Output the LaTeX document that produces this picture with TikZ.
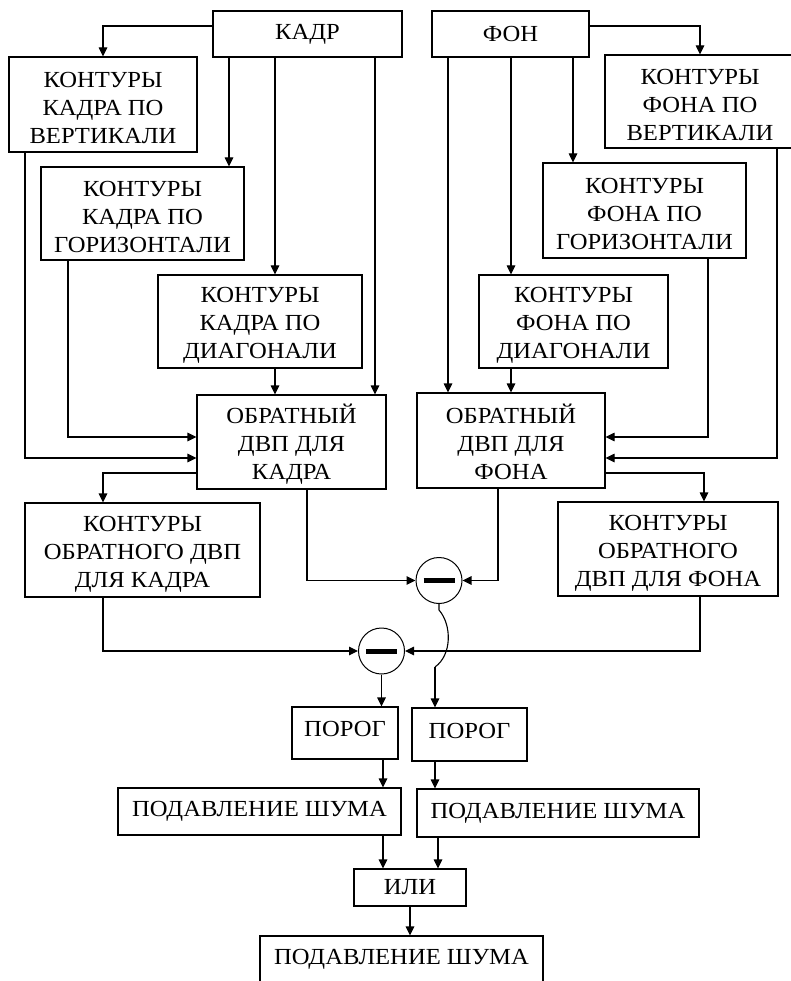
\documentclass[tikz,border=0pt]{standalone}
\usepackage{fontspec}
\setmainfont{Liberation Serif}[FakeStretch=1.07]
\usetikzlibrary{arrows.meta}

\newcommand\topgap{\rule{0pt}{23pt}}

\tikzset{
  block/.style={draw, line width=1.1pt, align=center, inner sep=0pt,
    font=\fontsize{23}{28}\selectfont},
  porogbox/.style={block, text depth=8pt},
  minus node/.style={circle, draw, line width=1pt, minimum size=46pt, inner sep=0pt},
  arr/.style={line width=1.1pt, -{Triangle[length=9pt,width=8.5pt]}},
  wire/.style={line width=1.1pt},
}

\begin{document}
\begin{tikzpicture}[x=1pt, y=-1pt]
\clip (0,0) rectangle (791,981);
\fill[white] (0,0) rectangle (791,981);

% columns and rows of the wires
\coordinate (c25) at (25,0);   \coordinate (c68) at (68,0);
\coordinate (c103) at (103,0); \coordinate (c229) at (229,0);
\coordinate (c275) at (275,0); \coordinate (c307) at (307,0);
\coordinate (c375) at (375,0); \coordinate (c383) at (383,0);
\coordinate (c435) at (435,0); \coordinate (c438) at (438,0);
\coordinate (c448) at (448,0); \coordinate (c498) at (498,0);
\coordinate (c511) at (511,0); \coordinate (c573) at (573,0);
\coordinate (c700) at (700,0); \coordinate (c704) at (704,0);
\coordinate (c708) at (708,0); \coordinate (c777) at (777,0);
\coordinate (r26) at (0,26);   \coordinate (r437) at (0,437);
\coordinate (r458) at (0,458); \coordinate (r473) at (0,473);
\coordinate (hop) at (435,667);

% frame side
\node[block, minimum width=189pt, minimum height=46pt] (kadr) at (307.5,34) {КАДР};
\node[block, minimum width=188pt, minimum height=95pt] (kvert) at (103,104.5) {\topgap КОНТУРЫ\\КАДРА ПО\\ВЕРТИКАЛИ};
\node[block, minimum width=203pt, minimum height=93pt] (khor) at (142.5,213.5) {\topgap КОНТУРЫ\\КАДРА ПО\\ГОРИЗОНТАЛИ};
\node[block, minimum width=204pt, minimum height=93pt] (kdiag) at (260,321.5) {\topgap КОНТУРЫ\\КАДРА ПО\\ДИАГОНАЛИ};
\node[block, minimum width=189pt, minimum height=94pt] (kdwt) at (291.5,442) {\topgap ОБРАТНЫЙ\\ДВП ДЛЯ\\КАДРА};
\node[block, minimum width=235pt, minimum height=94pt] (kobr) at (142.5,550) {\topgap КОНТУРЫ\\ОБРАТНОГО ДВП\\ДЛЯ КАДРА};

% background side
\node[block, minimum width=157pt, minimum height=46pt] (fon) at (510.5,34) {ФОН};
\node[block, minimum width=190pt, minimum height=93pt] (fvert) at (700,101.5) {\topgap КОНТУРЫ\\ФОНА ПО\\ВЕРТИКАЛИ};
\node[block, minimum width=203pt, minimum height=95pt] (fhor) at (644.5,210.5) {\topgap КОНТУРЫ\\ФОНА ПО\\ГОРИЗОНТАЛИ};
\node[block, minimum width=189pt, minimum height=93pt] (fdiag) at (573.5,321.5) {\topgap КОНТУРЫ\\ФОНА ПО\\ДИАГОНАЛИ};
\node[block, minimum width=188pt, minimum height=95pt] (fdwt) at (511,440.5) {\topgap ОБРАТНЫЙ\\ДВП ДЛЯ\\ФОНА};
\node[block, minimum width=220pt, minimum height=94pt] (fobr) at (668,549) {\topgap КОНТУРЫ\\ОБРАТНОГО\\ДВП ДЛЯ ФОНА};

% subtraction and output chain
\node[minus node] (m1) at (439,580.5) {\rule[-2.25pt]{31pt}{4.5pt}};
\node[minus node] (m2) at (381.5,651) {\rule[-2.5pt]{31pt}{5pt}};
\node[porogbox, minimum width=106pt, minimum height=52pt] (porog1) at (345,733) {ПОРОГ};
\node[porogbox, minimum width=115pt, minimum height=53pt] (porog2) at (469.5,734.5) {ПОРОГ};
\node[block, minimum width=283pt, minimum height=47pt] (shum1) at (259.5,811.5) {ПОДАВЛЕНИЕ ШУМА};
\node[block, minimum width=282pt, minimum height=48pt] (shum2) at (558,813) {ПОДАВЛЕНИЕ ШУМА};
\node[block, minimum width=112pt, minimum height=37pt] (ili) at (410,887.5) {ИЛИ};
\node[block, minimum width=283pt, minimum height=47pt] (shum3) at (401.5,959.5) {ПОДАВЛЕНИЕ ШУМА};

% wires of the frame side
\draw[arr] (kadr.west |- r26) -| (kvert.north);
\draw[arr] (kadr.south -| c229) -- (khor.north -| c229);
\draw[arr] (kadr.south -| c275) -- (kdiag.north -| c275);
\draw[arr] (kadr.south -| c375) -- (kdwt.north -| c375);
\draw[arr] (kdiag.south -| c275) -- (kdwt.north -| c275);
\draw[arr] (kvert.south -| c25) |- (kdwt.west |- r458);
\draw[arr] (khor.south -| c68) |- (kdwt.west |- r437);
\draw[arr] (kdwt.west |- r473) -| (kobr.north -| c103);

% wires of the background side
\draw[arr] (fon.east |- r26) -| (fvert.north);
\draw[arr] (fon.south -| c448) -- (fdwt.north -| c448);
\draw[arr] (fon.south -| c511) -- (fdiag.north -| c511);
\draw[arr] (fon.south -| c573) -- (fhor.north -| c573);
\draw[arr] (fdiag.south -| c511) -- (fdwt.north -| c511);
\draw[arr] (fhor.south -| c708) |- (fdwt.east |- r437);
\draw[arr] (fvert.south -| c777) |- (fdwt.east |- r458);
\draw[arr] (fdwt.east |- r473) -| (fobr.north -| c704);

% differences
\draw[arr] (kdwt.south -| c307) |- (m1.west);
\draw[arr] (fdwt.south -| c498) |- (m1.east);
\draw[arr] (kobr.south -| c103) |- (m2.west);
\draw[arr] (fobr.south -| c700) |- (m2.east);
\draw[wire] (m1.south) -- ++(0,6) .. controls +(13,15) and +(17,-12) .. (hop);
\draw[arr] (hop) -- (porog2.north -| c435);
\draw[arr] (m2.south) -- (porog1.north -| m2.south);

% thresholds, noise and OR
\draw[arr] (porog1.south -| c383) -- (shum1.north -| c383);
\draw[arr] (porog2.south -| c435) -- (shum2.north -| c435);
\draw[arr] (shum1.south -| c383) -- (ili.north -| c383);
\draw[arr] (shum2.south -| c438) -- (ili.north -| c438);
\draw[arr] (ili.south) -- (shum3.north -| ili.south);
\end{tikzpicture}
\end{document}
